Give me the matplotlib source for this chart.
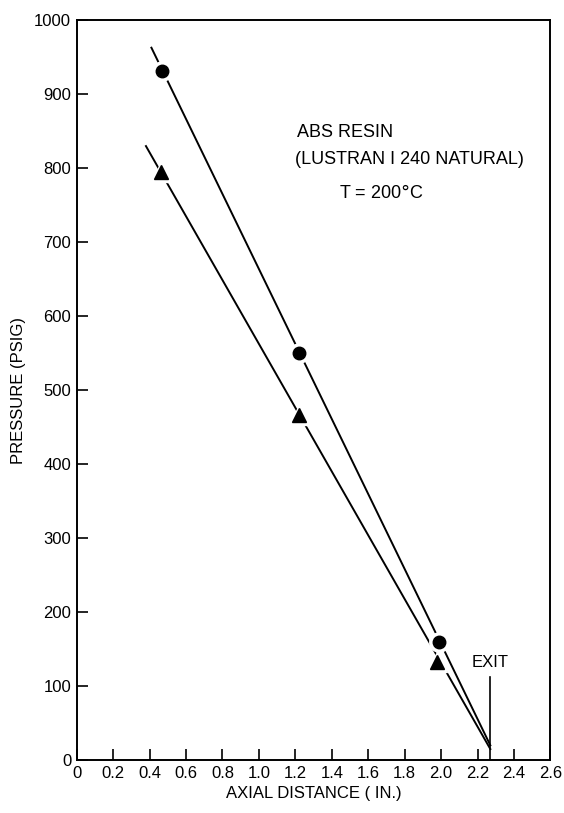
import matplotlib.pyplot as plt

circle_x = [0.47, 1.22, 1.99]
circle_p = [932, 551, 160]
tri_x = [0.46, 1.22, 1.98]
tri_p = [795, 467, 133]

# hand-drawn fit lines
circle_line_x = [0.41, 2.27]
circle_line_p = [963, 20]
tri_line_x = [0.38, 2.27]
tri_line_p = [830, 15]

# exit marker
exit_x = [2.27, 2.27]
exit_p = [0, 112]

x_ticks = [0, 0.2, 0.4, 0.6, 0.8, 1.0, 1.2, 1.4, 1.6, 1.8, 2.0, 2.2, 2.4, 2.6]
x_labels = ['0', '0.2', '0.4', '0.6', '0.8', '1.0', '1.2', '1.4', '1.6',
            '1.8', '2.0', '2.2', '2.4', '2.6']
y_ticks = [0, 100, 200, 300, 400, 500, 600, 700, 800, 900, 1000]

plt.rcParams['font.family'] = ['Liberation Sans', 'DejaVu Sans']

fig = plt.figure(figsize=(5.64, 8.13), dpi=100)
ax = fig.add_axes([0.136, 0.065, 0.840, 0.910])

lw = 1.4
ax.plot(circle_line_x, circle_line_p, color='black', lw=lw, zorder=2)
ax.plot(tri_line_x, tri_line_p, color='black', lw=lw, zorder=2)
ax.plot(exit_x, exit_p, color='black', lw=1.2, zorder=2)

# white halo under markers breaks the line, like the original drawing
ax.plot(circle_x, circle_p, 'o', color='white', ms=14, ls='none', zorder=3)
ax.plot(tri_x, tri_p, '^', color='white', ms=15, ls='none', zorder=3)
ax.plot(circle_x, circle_p, 'o', color='black', ms=9, ls='none', zorder=4)
ax.plot(tri_x, tri_p, '^', color='black', ms=10, ls='none', zorder=4)

ax.text(2.27, 122, 'EXIT', ha='center', va='bottom', fontsize=12)
ax.text(1.21, 849, 'ABS RESIN', ha='left', va='center', fontsize=13)
ax.text(1.20, 812, '(LUSTRAN I 240 NATURAL)', ha='left', va='center',
        fontsize=13)
ax.text(1.44, 766, 'T = 200$\\degree$C', ha='left', va='center',
        fontsize=13)

ax.set_xlim(0, 2.6)
ax.set_ylim(0, 1000)
ax.set_xticks(x_ticks)
ax.set_xticklabels(x_labels)
ax.set_yticks(y_ticks)
ax.tick_params(direction='in', length=8, width=1.2, labelsize=12,
               pad=4)
for s in ax.spines.values():
    s.set_linewidth(1.4)

ax.set_xlabel('AXIAL DISTANCE ( IN.)', fontsize=12, labelpad=4)
ax.set_ylabel('PRESSURE (PSIG)', fontsize=12, labelpad=6)

fig.savefig('out.png', dpi=100)
